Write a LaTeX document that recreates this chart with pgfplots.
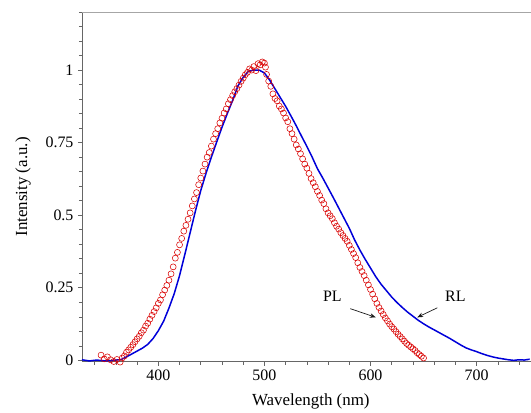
\documentclass[border=0pt]{standalone}
\usepackage{fontspec}
\setmainfont{Liberation Serif}
\usepackage{pgfplots}
\pgfplotsset{compat=1.18}
\usetikzlibrary{arrows.meta}
\begin{document}
\begin{tikzpicture}
\begin{axis}[
  name=main,
  scale only axis=true,
  width=449bp, height=350bp,
  xmin=328, xmax=751, ymin=-0.005, ymax=1.2,
  axis x line*=bottom, axis y line*=left,
  axis line style={gray!80!black, line width=0.6pt},
  xtick={400,500,600,700},
  minor xtick={340,360,380,420,440,460,480,520,540,560,580,620,640,660,680,720,740},
  ytick={0,0.25,0.5,0.75,1},
  yticklabels={0,0.25,0.5,0.75,1},
  minor ytick={0.05,0.1,0.15,0.2,0.3,0.35,0.4,0.45,0.55,0.6,0.65,0.7,0.8,0.85,0.9,0.95,1.05,1.1,1.15,1.2},
  tick align=outside,
  major tick length=4bp, minor tick length=3bp,
  tick style={gray!80!black, line width=0.6pt},
  /pgf/number format/assume math mode=true,
  ticklabel style={font=\fontsize{16}{18}\selectfont, text=black},
  yticklabel style={xshift=-1bp},
  xticklabel style={yshift=-1bp},
  label style={font=\fontsize{17}{19}\selectfont},
  xlabel={Wavelength (nm)},
  ylabel={Intensity (a.u.)},
  xlabel style={at={(axis description cs:0.51,-0.113)}, anchor=center},
  ylabel style={at={(axis description cs:-0.131,0.5)}, anchor=center, rotate=0},
  clip=false,
]
\addplot[only marks, mark=o, mark size=3bp, red!85!black, mark options={line width=0.55pt, fill=none}] coordinates {
(346,0.018)(349,0.005)(352,0.012)(355,0.002)(358,-0.004)(361,0.003)(364,-0.006)(366,0.008)(368,0.015)(370,0.028)
(372,0.036)(374,0.045)(376,0.054)(378,0.064)(380,0.074)(382,0.083)(384,0.095)(386,0.104)(388,0.118)(390,0.128)
(392,0.142)(394,0.155)(396,0.168)(398,0.181)(400,0.196)(402,0.208)(404,0.226)(406,0.242)(408,0.258)(410,0.276)
(412,0.298)(414,0.322)(416,0.352)(418,0.372)(420,0.398)(422,0.420)(424,0.445)(426,0.465)(428,0.486)(430,0.508)
(432,0.532)(434,0.556)(436,0.578)(438,0.605)(440,0.628)(442,0.652)(444,0.676)(446,0.700)(448,0.716)(450,0.738)
(452,0.762)(454,0.781)(456,0.798)(458,0.818)(460,0.834)(462,0.852)(464,0.866)(466,0.884)(468,0.898)(470,0.912)
(472,0.925)(474,0.936)(476,0.948)(478,0.961)(480,0.972)(482,0.984)(484,0.992)(486,1.004)(488,1.000)(490,1.012)
(492,0.998)(494,1.022)(496,1.018)(498,1.028)(500,1.024)(501,1.010)(502,0.985)(504,0.962)(506,0.944)(508,0.918)
(510,0.902)(512,0.894)(514,0.876)(516,0.866)(518,0.852)(520,0.835)(522,0.822)(524,0.798)(526,0.781)(528,0.762)
(530,0.742)(532,0.728)(534,0.712)(536,0.694)(538,0.676)(540,0.662)(542,0.644)(544,0.626)(546,0.612)(548,0.598)
(550,0.582)(552,0.568)(554,0.552)(556,0.540)(558,0.522)(560,0.508)(562,0.498)(564,0.488)(566,0.474)(568,0.462)
(570,0.452)(572,0.440)(574,0.430)(576,0.420)(578,0.410)(580,0.396)(582,0.382)(584,0.368)(586,0.354)(588,0.336)
(590,0.320)(592,0.306)(594,0.292)(596,0.276)(598,0.260)(600,0.244)(602,0.228)(604,0.212)(606,0.196)(608,0.182)
(610,0.170)(612,0.158)(614,0.146)(616,0.136)(618,0.125)(620,0.116)(622,0.108)(624,0.099)(626,0.090)(628,0.082)
(630,0.074)(632,0.066)(634,0.058)(636,0.052)(638,0.046)(640,0.040)(642,0.034)(644,0.026)(646,0.020)(648,0.014)(650,0.008)
};
\addplot[no marks, color=blue!85!black, line width=1.5pt] coordinates {
(328,0.002)(335,-0.002)(342,0.001)(350,-0.002)(358,0.000)(365,0.003)(370,0.012)(375,0.022)(380,0.032)(385,0.042)
(390,0.055)(395,0.075)(400,0.102)(405,0.135)(410,0.180)(415,0.230)(420,0.292)(425,0.365)(430,0.440)(435,0.515)
(440,0.585)(445,0.645)(450,0.700)(455,0.752)(460,0.803)(465,0.850)(470,0.895)(475,0.945)(480,0.975)(485,0.996)
(490,1.000)(495,1.000)(500,0.990)(505,0.965)(510,0.935)(515,0.905)(520,0.875)(525,0.842)(530,0.808)(535,0.772)
(540,0.737)(545,0.700)(550,0.660)(555,0.628)(560,0.594)(565,0.560)(570,0.525)(575,0.490)(580,0.455)(585,0.415)
(590,0.380)(595,0.348)(600,0.318)(605,0.288)(610,0.262)(615,0.240)(620,0.218)(625,0.199)(630,0.182)(635,0.166)
(640,0.152)(645,0.138)(650,0.126)(655,0.115)(660,0.105)(665,0.095)(670,0.085)(675,0.075)(680,0.064)(685,0.053)
(690,0.043)(695,0.036)(700,0.030)(705,0.023)(710,0.017)(715,0.012)(720,0.008)(725,0.005)(730,0.002)(735,0.000)
(740,0.002)(745,0.001)(750,0.004)
};
\draw[gray!70, line width=0.6pt] (rel axis cs:0,1) -- (rel axis cs:1,1);
\node[font=\fontsize{16}{18}\selectfont] at (axis cs:564,0.222) {PL};
\node[font=\fontsize{16}{18}\selectfont] at (axis cs:680,0.222) {RL};
\draw[-{Stealth[length=6bp,width=4.5bp]}, gray!20!black, line width=0.7pt] (axis cs:581,0.178) -- (axis cs:605,0.148);
\draw[-{Stealth[length=6bp,width=4.5bp]}, gray!20!black, line width=0.7pt] (axis cs:663,0.181) -- (axis cs:644,0.148);
\end{axis}
\path ([xshift=-82bp,yshift=12bp]main.north west) -- ([yshift=-51bp]main.south east);
\end{tikzpicture}
\end{document}
